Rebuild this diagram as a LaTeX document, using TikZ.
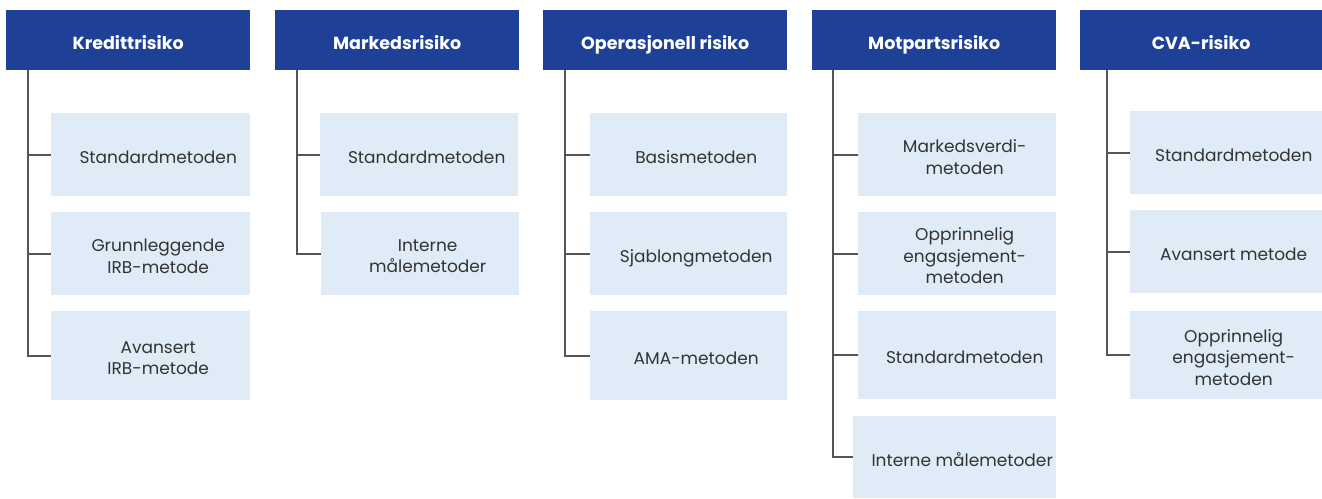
\documentclass[tikz,border=0pt]{standalone}
\usepackage{fontspec}
\setmainfont{Poppins}
\definecolor{hdrblue}{HTML}{1F4097}
\definecolor{boxblue}{HTML}{DFECF7}
\definecolor{linegray}{HTML}{555555}
\definecolor{txtgray}{HTML}{333333}
\begin{document}
\begin{tikzpicture}[x=1pt,y=-1pt,
  hdr/.style={fill=hdrblue, minimum width=244pt, minimum height=60pt, inner sep=0pt, anchor=north west},
  htext/.style={text=white, font=\fontsize{17.5}{20}\selectfont\bfseries, inner sep=0pt,
    text height=18pt, text depth=0pt},
  cbox/.style={fill=boxblue, minimum width=198pt, minimum height=83pt, inner sep=0pt, anchor=north west},
  ctext/.style={text=txtgray, font=\fontsize{17}{21.5}\selectfont, align=center, inner sep=0pt,
    text depth=0pt},
  conn/.style={draw=linegray, line width=1.6pt}]
\useasboundingbox (0,0) rectangle (1322,498);

% headers
\node[hdr] (hk) at (6,10) {};
\node[hdr] (hm) at (275,10) {};
\node[hdr] (ho) at (543,10) {};
\node[hdr] (hp) at (812,10) {};
\node[hdr, minimum width=242pt] (hc) at (1080,10) {};
\node[htext] (hkt) at (hk.center) {Kredittrisiko};
\node[htext] (hmt) at (hm.center) {Markedsrisiko};
\node[htext] (hot) at (ho.center) {Operasjonell risiko};
\node[htext] (hpt) at (hp.center) {Motpartsrisiko};
\node[htext] (hct) at (hc.center) {CVA-risiko};

% trunk coordinates
\coordinate (kv) at ([xshift=22pt]hk.south west);
\coordinate (mv) at ([xshift=22pt]hm.south west);
\coordinate (ov) at ([xshift=22pt]ho.south west);
\coordinate (pv) at ([xshift=21pt]hp.south west);
\coordinate (cv) at ([xshift=27pt]hc.south west);

% Kredittrisiko
\node[cbox, minimum width=199pt] (k1) at (51,113) {};
\node[cbox, minimum width=199pt] (k2) at (51,212) {};
\node[cbox, minimum width=199pt, minimum height=89pt] (k3) at (51,311) {};
\node[ctext] (k1t) at ([xshift=7.5pt,yshift=-2.3pt]k1.center) {Standardmetoden};
\node[ctext] (k2t) at ([xshift=7.5pt,yshift=-2.3pt]k2.center) {Grunnleggende\\IRB-metode};
\node[ctext] (k3t) at ([xshift=7.5pt,yshift=-2.3pt]k3.center) {Avansert\\IRB-metode};

% Markedsrisiko
\node[cbox] (m1) at (320,113) {};
\node[cbox] (m2) at (321,212) {};
\node[ctext] (m1t) at ([xshift=7.5pt,yshift=-2.3pt]m1.center) {Standardmetoden};
\node[ctext] (m2t) at ([xshift=7.5pt,yshift=-2.3pt]m2.center) {Interne\\målemetoder};

% Operasjonell risiko
\node[cbox, minimum width=197pt] (o1) at (590,113) {};
\node[cbox, minimum width=197pt] (o2) at (590,212) {};
\node[cbox, minimum width=197pt, minimum height=89pt] (o3) at (590,311) {};
\node[ctext] (o1t) at ([xshift=7.5pt,yshift=-2.3pt]o1.center) {Basismetoden};
\node[ctext] (o2t) at ([xshift=7.5pt,yshift=-2.3pt]o2.center) {Sjablongmetoden};
\node[ctext] (o3t) at ([xshift=7.5pt,yshift=-2.3pt]o3.center) {AMA-metoden};

% Motpartsrisiko
\node[cbox] (p1) at (858,113) {};
\node[cbox] (p2) at (858,212) {};
\node[cbox, minimum height=88pt] (p3) at (858,311) {};
\node[cbox, minimum width=203pt, minimum height=82pt] (p4) at (853,416) {};
\node[ctext] (p1t) at ([xshift=7.5pt,yshift=-2.3pt]p1.center) {Markedsverdi-\\metoden};
\node[ctext] (p2t) at ([xshift=7.5pt,yshift=-2.3pt]p2.center) {Opprinnelig\\engasjement-\\metoden};
\node[ctext] (p3t) at ([xshift=7.5pt,yshift=-2.3pt]p3.center) {Standardmetoden};
\node[ctext] (p4t) at ([xshift=7.5pt,yshift=-2.3pt]p4.center) {Interne målemetoder};

% CVA-risiko
\node[cbox, minimum width=192pt] (c1) at (1130,111) {};
\node[cbox, minimum width=192pt] (c2) at (1130,210) {};
\node[cbox, minimum width=192pt, minimum height=88pt] (c3) at (1130,311) {};
\node[ctext] (c1t) at ([xshift=7.5pt,yshift=-2.3pt]c1.center) {Standardmetoden};
\node[ctext] (c2t) at ([xshift=7.5pt,yshift=-2.3pt]c2.center) {Avansert metode};
\node[ctext] (c3t) at ([xshift=7.5pt,yshift=-2.3pt]c3.center) {Opprinnelig\\engasjement-\\metoden};

% connectors
\draw[conn] (kv) |- (k3.west);
\draw[conn] (kv |- k1.west) -- (k1.west);
\draw[conn] (kv |- k2.west) -- (k2.west);

\draw[conn] (mv) |- (m2.west);
\draw[conn] (mv |- m1.west) -- (m1.west);

\draw[conn] (ov) |- (o3.west);
\draw[conn] (ov |- o1.west) -- (o1.west);
\draw[conn] (ov |- o2.west) -- (o2.west);

\draw[conn] (pv) |- (p4.west);
\draw[conn] (pv |- p1.west) -- (p1.west);
\draw[conn] (pv |- p2.west) -- (p2.west);
\draw[conn] (pv |- p3.west) -- (p3.west);

\draw[conn] (cv) |- (c3.west);
\draw[conn] (cv |- c1.west) -- (c1.west);
\draw[conn] (cv |- c2.west) -- (c2.west);
\end{tikzpicture}
\end{document}
